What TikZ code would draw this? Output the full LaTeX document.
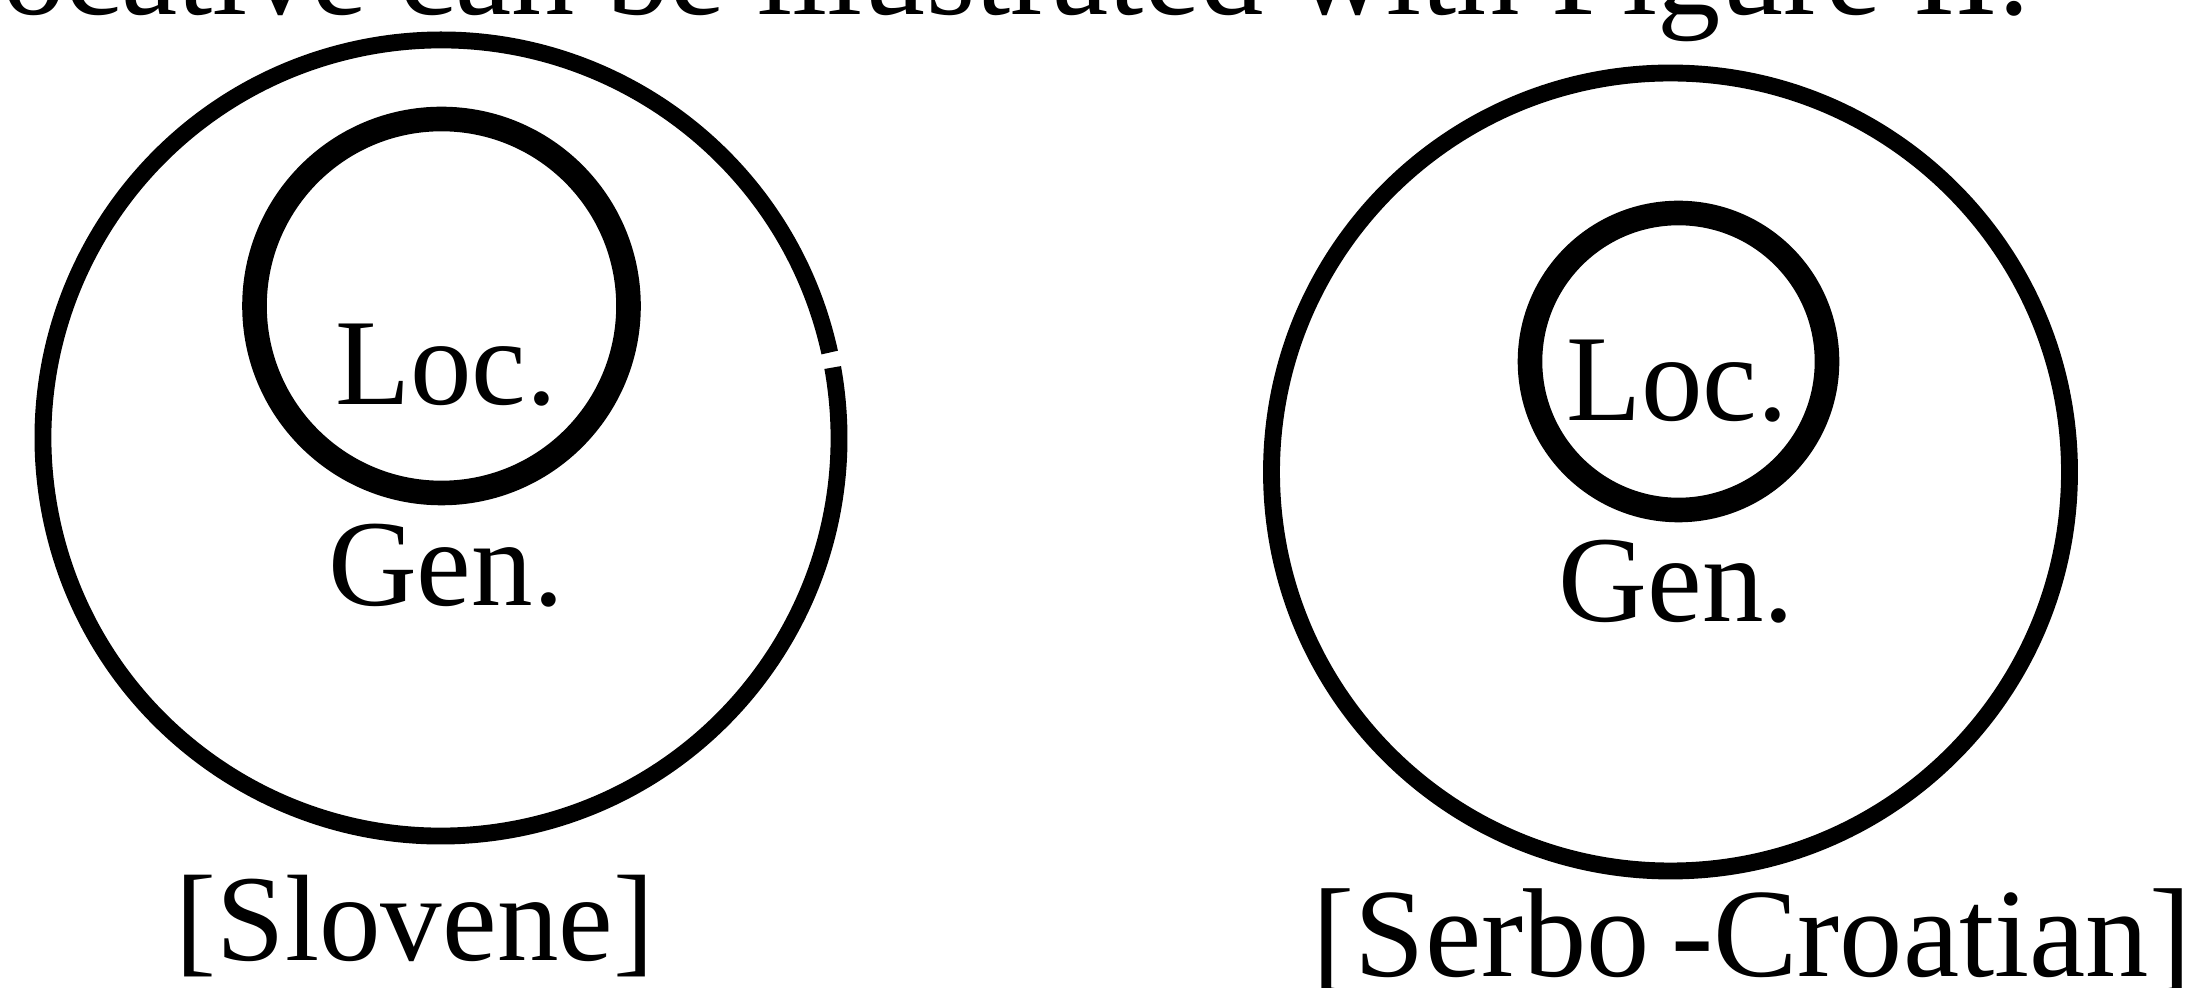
\documentclass[tikz,border=0pt]{standalone}
\usepackage{fontspec}
\setmainfont{Liberation Serif}
\usetikzlibrary{positioning}
\tikzset{
  ring/.style={circle, draw, line width=4.8pt, inner sep=0pt, outer sep=0pt},
  core/.style={circle, draw, line width=7pt, inner sep=0pt, outer sep=0pt},
  kase/.style={font=\fontsize{35}{42}\selectfont, inner sep=0pt, anchor=base},
  dil/.style={font=\fontsize{35}{42}\selectfont, inner sep=0pt, anchor=base},
}
\begin{document}
\begin{tikzpicture}
  \clip (0,0) rectangle (22.02,-9.88);
  % line of running text, cut at the top
  \node[kase, anchor=base east, font=\fontsize{36}{42}\selectfont] (satir) at (20.30,-0.15)
    {locative can be illustrated with Figure II.};
  % Slovene: outer circle with a small break on the right
  \coordinate (slc) at (4.41,-4.38);
  \draw[line width=4.8pt] (slc) ++(12.4:3.98) arc[start angle=12.4, end angle=370.2, radius=3.98];
  \node[core, minimum size=3.74cm] (slin) at (4.415,-3.06) {};
  \node[kase] (slloc) at (4.46,-4.05) {Loc.};
  \node[kase] (slgen) at (4.46,-6.06) {Gen.};
  \node[dil] (slname) at (4.15,-9.60) {[Slovene]};
  % Serbo-Croatian
  \node[ring, minimum size=7.98cm] (scout) at (16.705,-4.72) {};
  \node[core, minimum size=2.97cm] (scin) at (16.785,-3.615) {};
  \node[kase] (scloc) at (16.77,-4.21) {Loc.};
  \node[kase] (scgen) at (16.765,-6.22) {Gen.};
  \node[dil, font=\fontsize{36}{42}\selectfont] (scname) at (17.52,-9.76) {[Serbo\,-Croatian]};
\end{tikzpicture}
\end{document}
